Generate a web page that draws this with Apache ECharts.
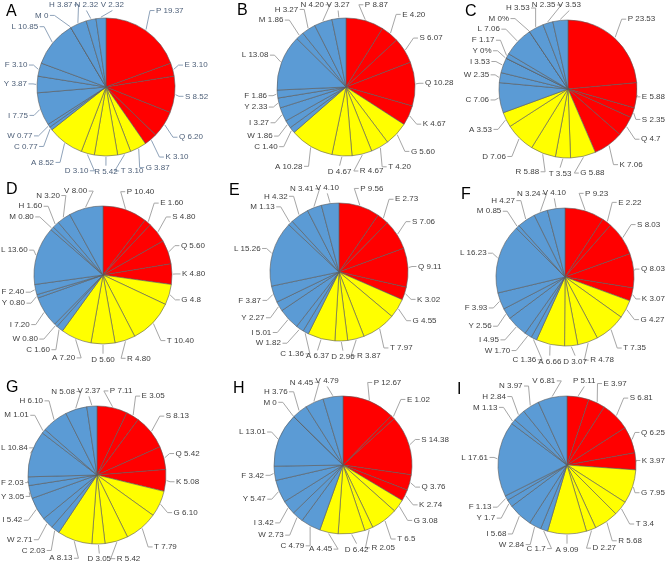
<!DOCTYPE html>
<html>
<head>
<meta charset="utf-8">
<script src="https://cdn.jsdelivr.net/npm/echarts@6/dist/echarts.min.js"></script>
<style>
html,body{margin:0;padding:0;background:#fff;}
#chart{width:666px;height:564px;}
</style>
</head>
<body>
<div id="chart"></div>
<script>
// Amino acid categories, clockwise from 12 o'clock
const names = ['P','E','S','Q','K','G','T','R','D','A','C','W','I','Y','F','L','M','H','N','V'];
const panelLetters = ['A','B','C','D','E','F','G','H','I'];

const valuesA = ['19.37','3.10','8.52','6.20','3.10','3.87','3.10','5.42','3.10','8.52','0.77','0.77','7.75','3.87','3.10','10.85','0','3.87','2.32','2.32'];
const valuesB = ['8.87','4.20','6.07','10.28','4.67','5.60','4.20','4.67','4.67','10.28','1.40','1.86','3.27','2.33','1.86','13.08','1.86','3.27','4.20','3.27'];
const valuesC = ['23.53','5.88','2.35','4.7','7.06','5.88','3.53','5.88','7.06','3.53','7.06','2.35','3.53','0%','1.17','7.06','0%','3.53','2.35','3.53'];
const valuesD = ['10.40','1.60','4.80','5.60','4.80','4.8','10.40','4.80','5.60','7.20','1.60','0.80','7.20','0.80','2.40','13.60','0.80','1.60','3.20','8.00'];
const valuesE = ['9.56','2.73','7.06','9.11','3.02','4.55','7.97','3.87','2.96','6.37','1.36','1.82','5.01','2.27','3.87','15.26','1.13','4.32','3.41','4.10'];
const valuesF = ['9.23','2.22','8.03','8.03','3.07','4.27','7.35','4.78','3.07','6.66','1.36','1.70','4.95','2.56','3.93','16.23','0.85','4.27','3.24','4.10'];
const valuesG = ['7.11','3.05','8.13','5.42','5.08','6.10','7.79','5.42','3.05','8.13','2.03','2.71','5.42','3.05','2.03','10.84','1.01','6.10','5.08','2.37'];
const valuesH = ['12.67','1.02','14.38','3.76','2.74','3.08','6.5','2.05','6.42','4.45','4.79','2.73','3.42','5.47','3.42','13.01','0','3.76','4.45','4.79'];
const valuesI = ['5.11','3.97','6.81','6.25','3.97','7.95','3.4','5.68','2.27','9.09','1.7','2.84','5.68','1.7','1.13','17.61','1.13','2.84','3.97','6.81'];

const allValues = [valuesA,valuesB,valuesC,valuesD,valuesE,valuesF,valuesG,valuesH,valuesI];

const RED = '#ff0000', YELLOW = '#ffff00', BLUE = '#5b9bd5';
function sliceColor(i){ return i < 5 ? RED : (i < 10 ? YELLOW : BLUE); }

const centers = [[106,87],[346,87],[568,89],[103,275],[339,272],[565,277],[97,475],[343,465],[567,465]];
const titlePos = [[6,4],[237,3],[465,4],[6,182],[229,183],[461,187],[6,380],[233,381],[457,382]];
const RADIUS = 69;
const FONT_SIZE = 8;
const FONT_FAMILY = 'Liberation Sans';
const CANVAS_W = 666, CANVAS_H = 564;

// --- label placement (Excel-like, spread around the pie) ---
const measureCtx = document.createElement('canvas').getContext('2d');
measureCtx.font = FONT_SIZE + 'px "' + FONT_FAMILY + '"';
function labelText(p, i){ return names[i] + ' ' + allValues[p][i]; }

function computeLayout(p){
  const strs = allValues[p];
  const vals = strs.map(s => parseFloat(s));
  const sum = vals.reduce((a, b) => a + b, 0);
  const cx = centers[p][0], cy = centers[p][1];
  const Rx = RADIUS + 10, Ry = RADIUS + 14;
  let cum = 0;
  const items = vals.map((v, i) => {
    const a = 2 * Math.PI * (cum + v / 2) / sum;
    cum += v;
    return { a0: a, a: a, w: measureCtx.measureText(labelText(p, i)).width, h: 9.5 };
  });
  function norm(a){
    const s = Math.abs(Math.sin(a)), c = Math.abs(Math.cos(a));
    return Math.pow(s * s * s + c * c * c, 1 / 3);
  }
  function rect(it){
    const s = Math.sin(it.a), c = Math.cos(it.a);
    const nn = norm(it.a);
    const ax = cx + Rx * s / nn, ay = cy - Ry * c / nn;
    const t = Math.max(-1, Math.min(1, s * 2.5));
    let left = ax - it.w * (1 - t) / 2;
    left = Math.max(1, Math.min(CANVAS_W - 1 - it.w, left));
    let top = ay - it.h / 2 - (it.h / 2) * c * 0.3;
    top = Math.max(0, Math.min(CANVAS_H - it.h, top));
    return { x: left, y: top, w: it.w, h: it.h, t: t, c: c };
  }
  function overlap(A, B){
    const px = 2, py = 1;
    return A.x < B.x + B.w + px && B.x < A.x + A.w + px && A.y < B.y + B.h + py && B.y < A.y + A.h + py;
  }
  const n = items.length;
  for (let iter = 0; iter < 1500; iter++) {
    let moved = false;
    for (let i = 0; i < n; i++) {
      for (let k = 1; k <= 3; k++) {
        const j = (i + k) % n;
        if (overlap(rect(items[i]), rect(items[j]))) {
          items[i].a -= 0.003;
          items[j].a += 0.003;
          moved = true;
        }
      }
    }
    if (!moved) break;
  }
  return items.map((it) => {
    const r = rect(it);
    const ex = cx + (RADIUS + 1) * Math.sin(it.a0), ey = cy - (RADIUS + 1) * Math.cos(it.a0);
    const midY = r.y + r.h / 2;
    let pts;
    if (r.t > 0.5) {
      pts = [[ex, ey], [r.x - 6, midY], [r.x - 1.5, midY]];
    } else if (r.t < -0.5) {
      pts = [[ex, ey], [r.x + r.w + 6, midY], [r.x + r.w + 1.5, midY]];
    } else if (r.c > 0) {
      const lx = r.x + r.w / 2;
      pts = [[ex, ey], [lx, r.y + r.h + 1]];
    } else {
      const lx = r.x + r.w / 2;
      pts = [[ex, ey], [lx, r.y - 1]];
    }
    return { x: r.x, y: midY, pts: pts };
  });
}
const layouts = allValues.map((v, p) => computeLayout(p));

const series = allValues.map((vals, p) => ({
  type: 'pie',
  center: centers[p],
  radius: RADIUS,
  startAngle: 90,
  clockwise: true,
  animation: false,
  avoidLabelOverlap: false,
  itemStyle: { borderColor: '#5a5a5a', borderWidth: 0.6 },
  emphasis: { disabled: true },
  label: {
    show: true,
    position: 'outside',
    fontSize: FONT_SIZE,
    fontFamily: FONT_FAMILY,
    width: 60,
    overflow: 'none',
    color: p === 0 ? '#4d5f78' : '#404040',
    formatter: (prm) => labelText(p, prm.dataIndex)
  },
  labelLine: {
    show: true,
    length: 7,
    length2: 9,
    lineStyle: { color: p === 0 ? '#8fa3ba' : '#a6a6a6', width: 1 }
  },
  labelLayout: (prm) => {
    const L = layouts[p][prm.dataIndex];
    return { x: L.x, y: L.y, align: 'left', verticalAlign: 'middle', labelLinePoints: L.pts };
  },
  data: names.map((n, i) => ({
    name: n,
    value: parseFloat(vals[i]),
    itemStyle: { color: sliceColor(i) }
  }))
}));

const chart = echarts.init(document.getElementById('chart'), null, {renderer: 'canvas'});
chart.setOption({
  backgroundColor: '#ffffff',
  title: panelLetters.map((t, i) => ({
    text: t,
    left: titlePos[i][0],
    top: titlePos[i][1],
    padding: 0,
    textStyle: { fontSize: 16, fontWeight: 'normal', color: '#000', fontFamily: 'Liberation Sans, Arial, sans-serif' }
  })),
  series: series
});
</script>
</body>
</html>
